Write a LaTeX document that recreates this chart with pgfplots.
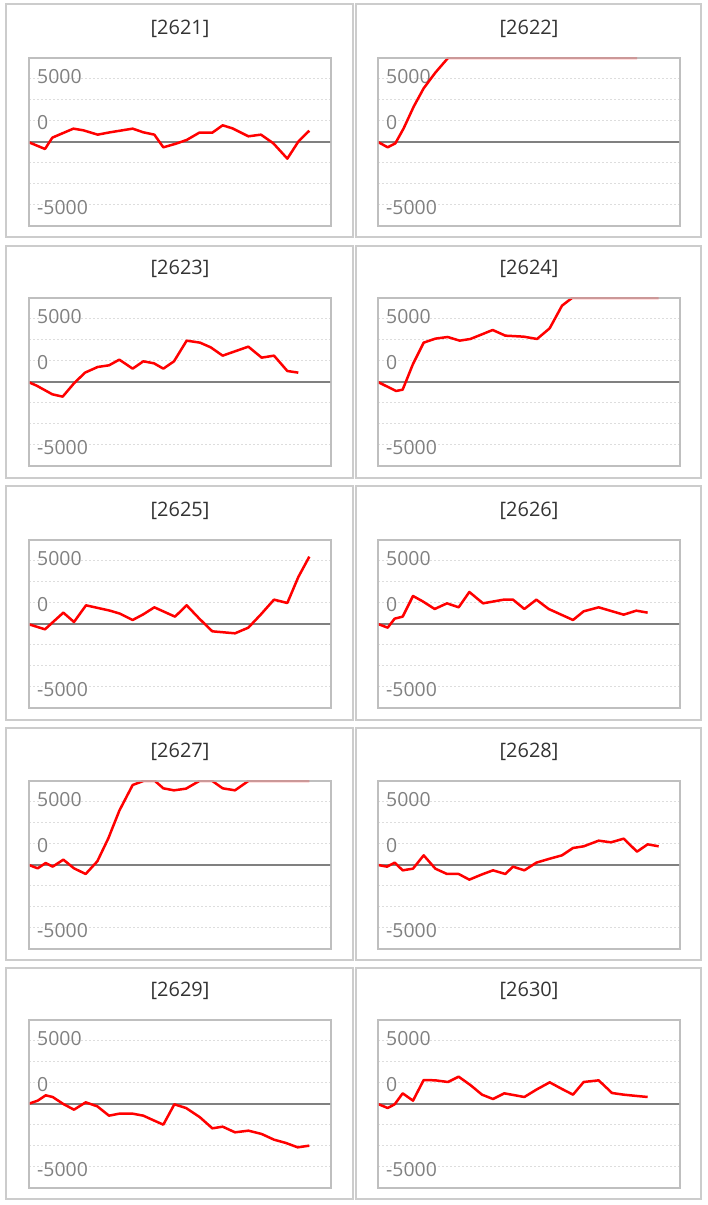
\documentclass[border=0pt]{standalone}
\usepackage{fontspec}
\setmainfont{Open Sans}
\usepackage{pgfplots}
\pgfplotsset{compat=1.18}
\definecolor{framec}{HTML}{BFBFBF}
\definecolor{panelc}{HTML}{CCCCCC}
\definecolor{gridc}{HTML}{DDDDDD}
\definecolor{zeroc}{HTML}{808080}
\definecolor{tickc}{HTML}{808080}
\definecolor{titlec}{HTML}{333333}
\pgfplotsset{
  mini/.style={
  scale only axis, width=302bp, height=168bp,
  xmin=0, xmax=906, ymin=-10000, ymax=10000,
  xtick=\empty,
  ytick={-7857,2262,7738}, yticklabels={-5000,0,5000},
  scaled y ticks=false,
  major tick length=0pt, minor tick length=0pt,
  yticklabel style={anchor=west, inner sep=0pt, xshift=8bp, font=\fontsize{19.5}{20}\selectfont, text=tickc},
  minor ytick={-7500,-5000,-2500,2500,5000,7500},
  minor grid style={gridc, line width=1bp, dash pattern=on 2bp off 2bp},
  ymajorgrids=false, yminorgrids=true,
  extra y ticks={0}, extra y tick labels={},
  extra y tick style={grid=major, major grid style={zeroc, line width=1.5bp, solid}},
  axis line style={framec, line width=2bp},
  title style={at={(0.5,1)}, anchor=center, yshift=23bp, font=\fontsize{20}{22}\selectfont, text=titlec},
  after end axis/.code={\draw[framec, line width=2bp, draw opacity=0.8] (rel axis cs:0,0) rectangle (rel axis cs:1,1);},
}}
\tikzset{ser/.style={red, line width=2.5bp, line join=round}}
\begin{document}
\begin{tikzpicture}[x=1bp,y=1bp]
\path[use as bounding box] (0,0) rectangle (708,1205);
% panel boxes
\foreach \t/\b in {1201/968, 959/727, 719/485, 477/245, 237/6}{
  \draw[panelc, line width=2bp] (6,\t) rectangle (353,\b);
  \draw[panelc, line width=2bp] (356,\t) rectangle (701,\b);
}
% 2621
\begin{axis}[mini, at={(29bp,979bp)}, anchor=south west, title={{[}2621{]}}]
\addplot[ser] coordinates {(0,-40) (48,-833) (70,516) (133,1587) (163,1389) (206,873) (243,1151) (311,1587) (343,1151) (376,873) (403,-635) (438,-238) (473,238) (511,1111) (550,1111) (581,1984) (610,1627) (658,675) (696,873) (733,-159) (775,-1984) (808,40) (841,1349)};
\end{axis}
% 2622
\begin{axis}[mini, at={(378bp,979bp)}, anchor=south west, title={{[}2622{]}}]
\addplot[ser] coordinates {(0,0) (29,-635) (52,-159) (77,1627) (107,4206) (137,6389) (172,8254) (210,10000) (777,10000)};
\end{axis}
% 2623
\begin{axis}[mini, at={(29bp,739bp)}, anchor=south west, title={{[}2623{]}}]
\addplot[ser] coordinates {(0,-40) (23,-437) (70,-1468) (101,-1746) (135,-159) (168,1111) (206,1786) (240,1984) (271,2659) (311,1587) (343,2460) (375,2222) (403,1587) (435,2460) (473,4921) (513,4683) (545,4127) (581,3135) (618,3651) (658,4206) (698,2897) (735,3135) (775,1309) (808,1111)};
\end{axis}
% 2624
\begin{axis}[mini, at={(378bp,739bp)}, anchor=south west, title={{[}2624{]}}]
\addplot[ser] coordinates {(0,0) (54,-1071) (74,-913) (105,2143) (137,4683) (172,5159) (209,5357) (245,4921) (277,5119) (312,5675) (344,6190) (382,5516) (437,5397) (477,5119) (515,6389) (552,9087) (582,10000) (842,10000)};
\end{axis}
% 2625
\begin{axis}[mini, at={(29bp,497bp)}, anchor=south west, title={{[}2625{]}}]
\addplot[ser] coordinates {(0,-40) (48,-635) (103,1349) (135,238) (171,2222) (243,1587) (273,1230) (311,476) (343,1151) (376,1984) (438,873) (473,2222) (511,635) (550,-873) (618,-1111) (658,-437) (695,1111) (735,2897) (775,2500) (808,5595) (841,8016)};
\end{axis}
% 2626
\begin{axis}[mini, at={(378bp,497bp)}, anchor=south west, title={{[}2626{]}}]
\addplot[ser] coordinates {(0,0) (29,-437) (50,635) (74,873) (105,3333) (134,2698) (170,1786) (207,2460) (242,1984) (274,3810) (315,2460) (377,2897) (405,2897) (439,1786) (475,2897) (512,1786) (585,476) (617,1508) (662,1984) (737,1111) (775,1587) (809,1349)};
\end{axis}
% 2627
\begin{axis}[mini, at={(29bp,256bp)}, anchor=south west, title={{[}2627{]}}]
\addplot[ser] coordinates {(0,0) (26,-397) (50,238) (71,-198) (103,635) (135,-397) (170,-1071) (205,437) (238,3175) (271,6468) (311,9524) (343,10000) (378,10000) (403,9127) (435,8889) (471,9087) (511,10000) (550,10000) (581,9127) (618,8889) (658,10000) (841,10000)};
\end{axis}
% 2628
\begin{axis}[mini, at={(378bp,256bp)}, anchor=south west, title={{[}2628{]}}]
\addplot[ser] coordinates {(0,0) (27,-198) (50,278) (74,-635) (105,-437) (137,1151) (172,-437) (207,-1071) (242,-1071) (274,-1746) (310,-1151) (345,-635) (382,-1071) (405,-198) (439,-635) (475,278) (512,714) (552,1151) (585,2024) (617,2222) (662,2897) (699,2698) (737,3135) (777,1587) (809,2460) (842,2222)};
\end{axis}
% 2629
\begin{axis}[mini, at={(29bp,17bp)}, anchor=south west, title={{[}2629{]}}]
\addplot[ser] coordinates {(0,40) (26,397) (50,1032) (71,833) (103,0) (135,-675) (170,198) (205,-278) (240,-1389) (271,-1151) (311,-1151) (343,-1389) (376,-1984) (403,-2460) (436,-40) (471,-476) (513,-1587) (550,-2897) (581,-2698) (618,-3373) (658,-3175) (698,-3571) (735,-4246) (771,-4643) (806,-5159) (841,-4960)};
\end{axis}
% 2630
\begin{axis}[mini, at={(378bp,17bp)}, anchor=south west, title={{[}2630{]}}]
\addplot[ser] coordinates {(0,0) (29,-476) (50,-40) (74,1270) (105,397) (137,2857) (172,2817) (210,2619) (242,3254) (277,2262) (312,1111) (345,595) (379,1270) (439,833) (475,1706) (515,2579) (552,1786) (585,1111) (617,2619) (662,2817) (702,1310) (737,1111) (777,952) (809,833)};
\end{axis}
\end{tikzpicture}
\end{document}
